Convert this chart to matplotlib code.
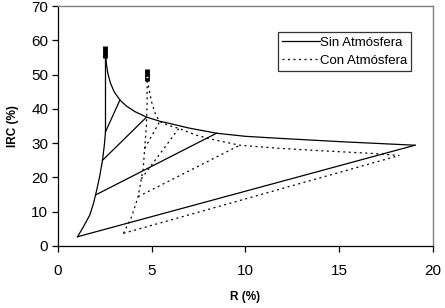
import matplotlib
matplotlib.use("Agg")
import matplotlib.pyplot as plt
from matplotlib.lines import Line2D

plt.rcParams['font.family'] = ['Liberation Sans', 'DejaVu Sans']

# Sin Atmosfera (solid)
sin_left_x = [1.05, 1.35, 1.7, 1.9, 2.05, 2.22, 2.38, 2.48, 2.54, 2.54, 2.54]
sin_left_y = [2.7, 5.5, 9.0, 12.4, 15.8, 20.0, 25.0, 29.5, 33.3, 45.0, 57.0]
sin_top_x = [2.54, 2.58, 2.66, 2.8, 3.0, 3.31, 3.66, 4.11, 4.73, 5.44, 6.0, 7.0, 8.46, 10.0, 11.84, 15.2, 19.04]
sin_top_y = [57.0, 53.5, 50.5, 47.6, 45.0, 42.6, 40.8, 39.2, 37.6, 36.4, 35.7, 34.4, 32.9, 32.0, 31.4, 30.4, 29.4]
sin_bottom_x = [1.05, 19.04]
sin_bottom_y = [2.7, 29.4]
sin_inner_x = [[2.54, 3.31], [2.38, 4.73], [2.05, 8.46]]
sin_inner_y = [[33.3, 42.6], [25.0, 37.6], [15.0, 32.9]]
sin_peak = (2.54, 56.7)

# Con Atmosfera (dotted)
con_left_x = [3.5, 3.93, 4.28, 4.45, 4.55, 4.63, 4.72, 4.76, 4.76]
con_left_y = [3.7, 8.5, 14.4, 19.6, 22.5, 28.5, 35.0, 42.0, 50.0]
con_top_x = [4.76, 4.85, 5.0, 5.2, 5.43, 5.9, 6.45, 7.4, 8.4, 9.7, 11.8, 14.0, 16.8, 18.2]
con_top_y = [50.0, 46.0, 42.0, 38.5, 36.3, 35.2, 34.3, 32.3, 30.9, 29.4, 28.5, 27.8, 27.0, 26.4]
con_bottom_x = [3.5, 18.2]
con_bottom_y = [3.7, 26.4]
con_inner_x = [[4.63, 5.43], [4.45, 6.45], [4.28, 9.7]]
con_inner_y = [[28.5, 36.3], [19.6, 34.3], [14.4, 29.4]]
con_peak = (4.76, 49.8)

fig = plt.figure(figsize=(4.45, 3.08), dpi=100)
ax = fig.add_axes([0.130, 0.2013, 0.843, 0.779])

lw = 0.9
dots = (0, (1.6, 2.8))

ax.plot(sin_left_x, sin_left_y, color='black', lw=lw)
ax.plot(sin_top_x, sin_top_y, color='black', lw=lw)
ax.plot(sin_bottom_x, sin_bottom_y, color='black', lw=lw)
for xs, ys in zip(sin_inner_x, sin_inner_y):
    ax.plot(xs, ys, color='black', lw=lw)
ax.plot([sin_peak[0]], [sin_peak[1]], marker='|', color='black', ms=9, mew=3.5)

ax.plot(con_left_x, con_left_y, color='black', lw=lw, ls=dots)
ax.plot(con_top_x, con_top_y, color='black', lw=lw, ls=dots)
ax.plot(con_bottom_x, con_bottom_y, color='black', lw=lw, ls=dots)
for xs, ys in zip(con_inner_x, con_inner_y):
    ax.plot(xs, ys, color='black', lw=lw, ls=dots)
ax.plot([con_peak[0]], [con_peak[1]], marker='|', color='black', ms=8, mew=3.5)
ax.plot([con_peak[0]], [con_peak[1] - 0.6], marker='_', color='white', ms=2, mew=1)

ax.set_xlim(0, 20)
ax.set_ylim(0, 70)
ax.set_xticks([0, 5, 10, 15, 20])
ax.set_yticks(range(0, 80, 10))
ax.tick_params(direction='out', length=4, width=0.9, labelsize=11, pad=3)
ax.tick_params(axis='x', pad=9)
for s in ['top', 'right']:
    ax.spines[s].set_color('#808080')
    ax.spines[s].set_linewidth(1)
for s in ['left', 'bottom']:
    ax.spines[s].set_linewidth(0.9)

ax.set_xlabel('R (%)', fontsize=8.5, fontweight='bold', labelpad=9)
ax.set_ylabel('IRC (%)', fontsize=8.5, fontweight='bold', labelpad=9)

# legend
handles = [Line2D([], [], color='black', lw=lw),
           Line2D([], [], color='black', lw=lw, ls=dots)]
leg = ax.legend(handles, ['Sin Atmósfera', 'Con Atmósfera'],
                loc='upper left', bbox_to_anchor=(0.587, 0.89),
                fontsize=9.5, frameon=True, fancybox=False, handlelength=2.85,
                handletextpad=0.05, borderpad=0.3, labelspacing=0.45,
                borderaxespad=0)
leg.get_frame().set_edgecolor('black')
leg.get_frame().set_linewidth(0.9)

fig.savefig('out.png', dpi=100)
